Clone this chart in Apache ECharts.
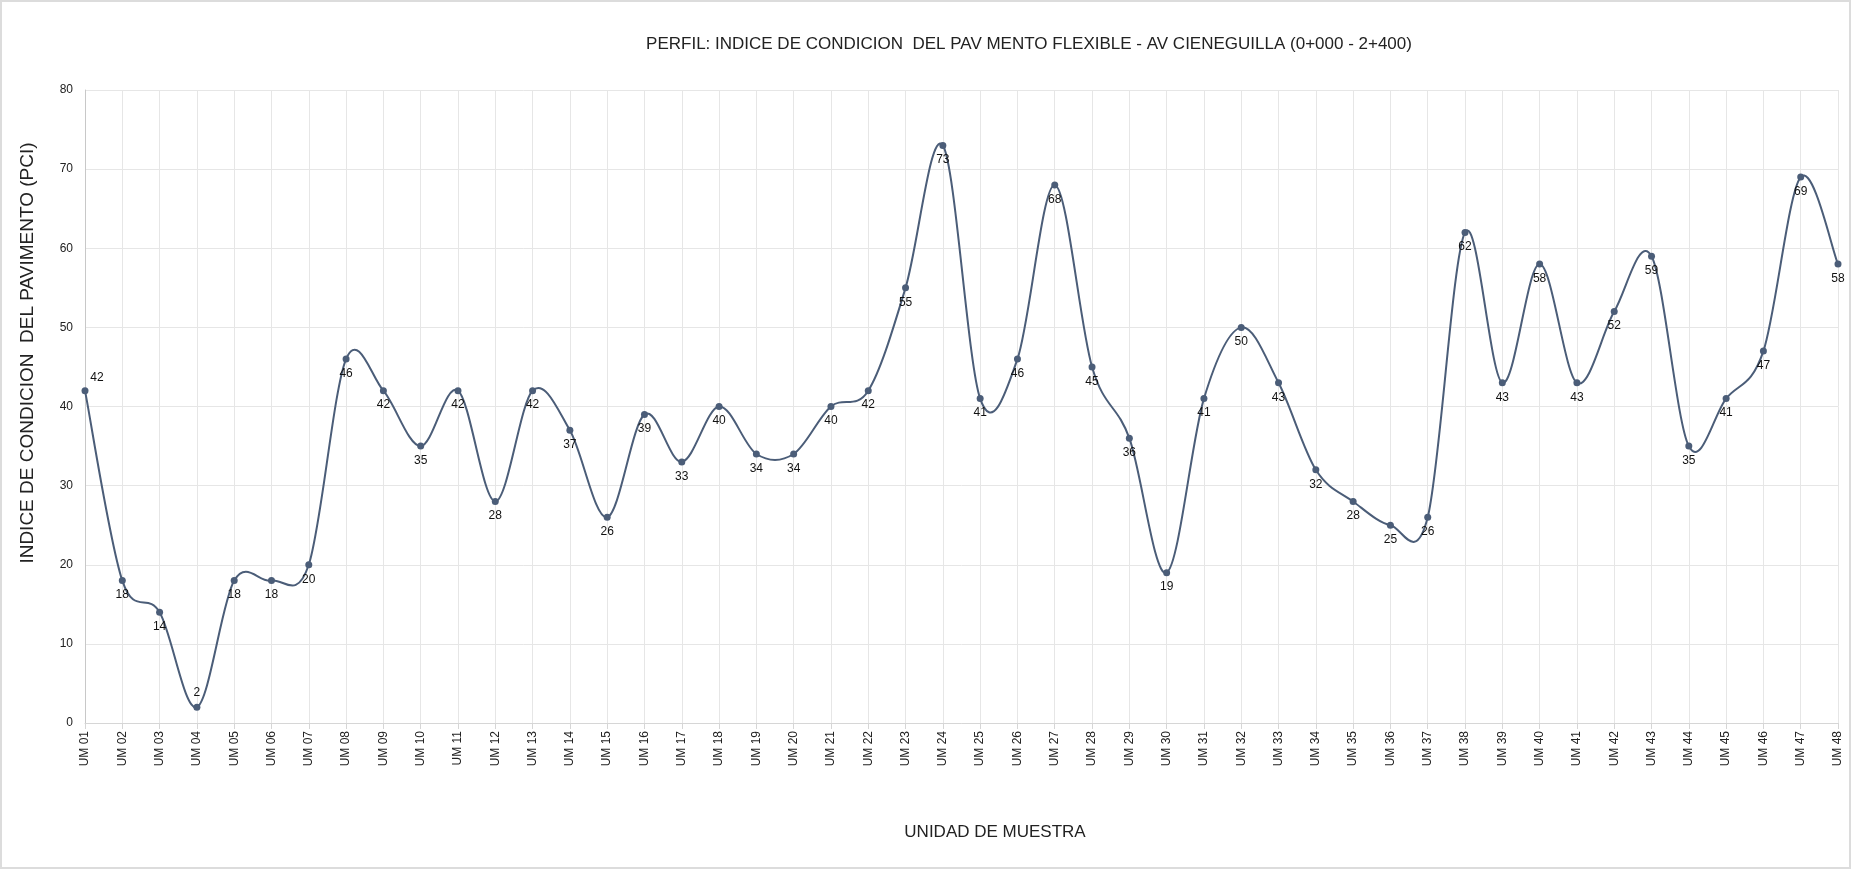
<!DOCTYPE html>
<html>
<head>
<meta charset="utf-8">
<script src="https://cdn.jsdelivr.net/npm/echarts@6/dist/echarts.min.js"></script>
<style>
  html, body { margin:0; padding:0; background:#fff; }
  #chart { width:1851px; height:869px; box-sizing:border-box; border:2px solid #dcdcdc; }
</style>
</head>
<body>
<div id="chart"></div>
<script>
  // ---- data ---------------------------------------------------------------
  const units = [];
  for (let i = 1; i <= 48; i++) units.push('UM ' + String(i).padStart(2, '0'));
  const pci = [42, 18, 14, 2, 18, 18, 20, 46, 42, 35, 42, 28, 42, 37, 26, 39, 33, 40, 34, 34,
               40, 42, 55, 73, 41, 46, 68, 45, 36, 19, 41, 50, 43, 32, 28, 25, 26, 62, 43, 58,
               43, 52, 59, 35, 41, 47, 69, 58];
  const yTicks = { min: 0, max: 80, interval: 10 };

  const TITLE = 'PERFIL: INDICE DE CONDICION  DEL PAV MENTO FLEXIBLE - AV CIENEGUILLA (0+000 - 2+400)';
  const Y_NAME = 'INDICE DE CONDICION  DEL PAVIMENTO (PCI)';
  const X_NAME = 'UNIDAD DE MUESTRA';

  const FONT = '"Liberation Sans", Arial, sans-serif';
  const LINE = '#4b5d78';

  // labels sit below each point, except a couple which Sheets put above
  const aboveIdx = { 0: [12, 2], 3: [0, 0] };
  const seriesData = pci.map((v, i) => {
    if (aboveIdx[i]) return { value: v, label: { position: 'top', offset: aboveIdx[i] } };
    return v;
  });

  // Sheets draws a catmull-rom style curve (overshoots a bit); echarts' smooth
  // clamps control points, so the curve is drawn by a custom series instead
  function renderCurve(params, api) {
    if (params.dataIndex !== 0) return;
    const pts = pci.map((v, i) => api.coord([i, v]));
    const n = pts.length;
    let d = 'M' + pts[0][0] + ' ' + pts[0][1];
    for (let i = 0; i < n - 1; i++) {
      const p0 = pts[Math.max(i - 1, 0)], p1 = pts[i], p2 = pts[i + 1], p3 = pts[Math.min(i + 2, n - 1)];
      const c1x = p1[0] + (p2[0] - p0[0]) / 6, c1y = p1[1] + (p2[1] - p0[1]) / 6;
      const c2x = p2[0] - (p3[0] - p1[0]) / 6, c2y = p2[1] - (p3[1] - p1[1]) / 6;
      d += ' C' + c1x + ' ' + c1y + ' ' + c2x + ' ' + c2y + ' ' + p2[0] + ' ' + p2[1];
    }
    return {
      type: 'path',
      shape: { pathData: d },
      style: { fill: 'none', stroke: LINE, lineWidth: 2 }
    };
  }

  const chart = echarts.init(document.getElementById('chart'), null, { renderer: 'canvas' });
  chart.setOption({
    backgroundColor: '#fff',
    animation: false,
    textStyle: { fontFamily: FONT },
    title: {
      text: TITLE, left: 1022, top: 29, textAlign: 'center',
      textStyle: { fontSize: 17, fontWeight: 'normal', color: '#222', fontFamily: FONT }
    },
    grid: { left: 83, right: 11, top: 88, bottom: 144, containLabel: false },
    xAxis: {
      type: 'category', data: units, boundaryGap: false,
      axisLine: { lineStyle: { color: '#d6d6d6' } },
      axisTick: { show: true, length: 6, alignWithLabel: true, lineStyle: { color: '#d6d6d6' } },
      axisLabel: { rotate: 90, interval: 0, color: '#222', fontSize: 12, margin: 8, fontFamily: FONT },
      splitLine: { show: true, interval: 0, lineStyle: { color: '#e6e6e6' } }
    },
    yAxis: {
      type: 'value', min: yTicks.min, max: yTicks.max, interval: yTicks.interval,
      axisLine: { show: true, lineStyle: { color: '#c8c8c8' } },
      axisTick: { show: false },
      axisLabel: { color: '#222', fontSize: 12, margin: 12, fontFamily: FONT },
      splitLine: { lineStyle: { color: '#e6e6e6' } }
    },
    graphic: [
      { type: 'text', rotation: Math.PI / 2, x: 26, y: 351,
        style: { text: Y_NAME, font: '19px ' + FONT, fill: '#222', textAlign: 'center', textVerticalAlign: 'middle' } },
      { type: 'text', x: 993, y: 830,
        style: { text: X_NAME, font: '17px ' + FONT, fill: '#222', textAlign: 'center', textVerticalAlign: 'middle' } }
    ],
    series: [
      {
        type: 'custom', name: 'curve', silent: true, z: 1,
        data: pci.map((v, i) => [i, v]),
        encode: { x: 0, y: 1 },
        renderItem: renderCurve
      },
      {
        type: 'line', name: 'PCI', data: seriesData, z: 2,
        symbol: 'circle', symbolSize: 7,
        itemStyle: { color: LINE },
        lineStyle: { width: 0, opacity: 0 },
        label: { show: true, position: 'bottom', distance: 5, color: '#111', fontSize: 12, fontFamily: FONT }
      }
    ]
  });
</script>
</body>
</html>
